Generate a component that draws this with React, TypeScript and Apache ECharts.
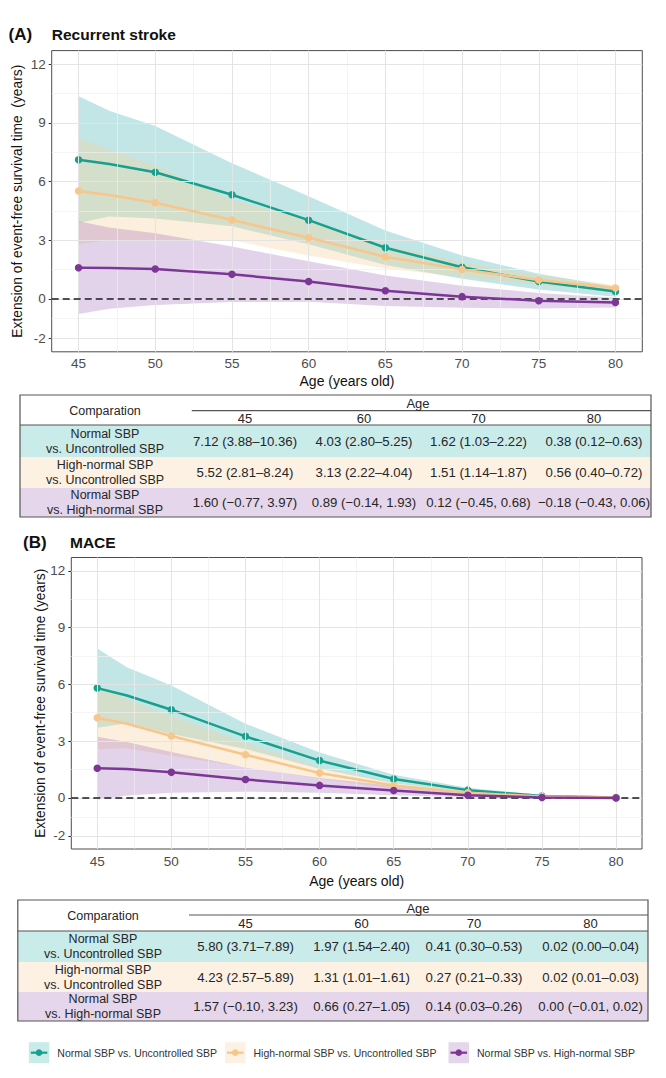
import { useEffect, useRef } from 'react';
import * as echarts from 'echarts';

const FONT = 'Arial, "Liberation Sans", Helvetica, sans-serif';

// ---- data -----------------------------------------------------------------
const ages = [45, 47, 50, 55, 60, 65, 70, 75, 80];
const markerAges = [45, 50, 55, 60, 65, 70, 75, 80];
const tableAges = [45, 60, 70, 80];
const xTicks = [45, 50, 55, 60, 65, 70, 75, 80];
const xMinor = [47.5, 52.5, 57.5, 62.5, 67.5, 72.5, 77.5];
const yTicks = [-2, 0, 3, 6, 9, 12];
const yMinor = [-1, 1.5, 4.5, 7.5, 10.5];

const comparisonNames = [
  'Normal SBP vs. Uncontrolled SBP',
  'High-normal SBP vs. Uncontrolled SBP',
  'Normal SBP vs. High-normal SBP',
];
const comparisonLines = [
  ['Normal SBP', 'vs. Uncontrolled SBP'],
  ['High-normal SBP', 'vs. Uncontrolled SBP'],
  ['Normal SBP', 'vs. High-normal SBP'],
];

// (A) Recurrent stroke
const strokeNormUnc = [7.12, 6.9, 6.48, 5.33, 4.03, 2.62, 1.62, 0.89, 0.38];
const strokeNormUncLow = [3.88, 4.22, 4.12, 3.72, 2.8, 1.74, 1.03, 0.49, 0.12];
const strokeNormUncHigh = [10.36, 9.62, 8.84, 6.94, 5.25, 3.5, 2.22, 1.29, 0.63];
const strokeHighUnc = [5.52, 5.32, 4.92, 4.04, 3.13, 2.16, 1.51, 0.97, 0.56];
const strokeHighUncLow = [2.81, 3.0, 3.0, 3.0, 2.22, 1.56, 1.14, 0.72, 0.4];
const strokeHighUncHigh = [8.24, 7.64, 6.84, 5.08, 4.04, 2.76, 1.87, 1.22, 0.72];
const strokeNormHigh = [1.6, 1.58, 1.53, 1.26, 0.89, 0.42, 0.12, -0.09, -0.18];
const strokeNormHighLow = [-0.77, -0.5, -0.31, -0.16, -0.14, -0.36, -0.45, -0.49, -0.43];
const strokeNormHighHigh = [3.97, 3.66, 3.36, 2.68, 1.93, 1.2, 0.68, 0.31, 0.06];

// (B) MACE
const maceNormUnc = [5.8, 5.41, 4.66, 3.25, 1.97, 1.0, 0.41, 0.1, 0.02];
const maceNormUncLow = [3.71, 3.95, 3.38, 2.58, 1.54, 0.78, 0.3, 0.05, 0.0];
const maceNormUncHigh = [7.89, 6.9, 5.94, 3.92, 2.4, 1.22, 0.53, 0.16, 0.04];
const maceHighUnc = [4.23, 3.92, 3.27, 2.28, 1.31, 0.65, 0.27, 0.07, 0.02];
const maceHighUncLow = [2.57, 2.62, 2.22, 1.63, 1.01, 0.5, 0.21, 0.05, 0.01];
const maceHighUncHigh = [5.89, 5.22, 4.32, 2.93, 1.61, 0.8, 0.33, 0.09, 0.03];
const maceNormHigh = [1.57, 1.53, 1.35, 0.97, 0.66, 0.39, 0.14, 0.02, 0.0];
const maceNormHighLow = [-0.1, 0.12, 0.27, 0.33, 0.27, 0.14, 0.03, -0.03, -0.01];
const maceNormHighHigh = [3.23, 2.95, 2.43, 1.61, 1.05, 0.64, 0.26, 0.07, 0.02];

// ---- styling ----------------------------------------------------------------
const lineColors = ['#17a08e', '#f7c68b', '#7c3795'];
const bandColors = ['rgba(52,172,168,0.3)', 'rgba(248,205,148,0.32)', 'rgba(158,105,185,0.3)'];
const rowFills = ['#c9ebe9', '#fdf1e3', '#e5d6eb'];
const TEXT = '#262626';

type Curve = { est: number[]; low: number[]; high: number[] };

const panels = [
  {
    tag: '(A)',
    title: 'Recurrent stroke',
    tagX: 8.5,
    titleX: 51.8,
    titleY: 34,
    grid: { left: 51.7, top: 50.6, width: 590.6, height: 301.2 },
    yTitle: 'Extension of event-free survival time  (years)',
    yTitlePos: [17.5, 201.2],
    xTitlePos: [347, 381],
    curves: [
      { est: strokeNormUnc, low: strokeNormUncLow, high: strokeNormUncHigh },
      { est: strokeHighUnc, low: strokeHighUncLow, high: strokeHighUncHigh },
      { est: strokeNormHigh, low: strokeNormHighLow, high: strokeNormHighHigh },
    ] as Curve[],
    table: {
      left: 20, right: 651, top: 395, ageLineX: 191.8, ageLineY: 410.7, headBottom: 425,
      rows: [425, 457, 488, 517], colX: [245, 364, 478.5, 594], compX: 105,
      ageX: 418, ageY: 403, colHeadY: 418.5, compY: 411,
    },
  },
  {
    tag: '(B)',
    title: 'MACE',
    tagX: 23,
    titleX: 70,
    titleY: 542,
    grid: { left: 71.3, top: 557.5, width: 570.7, height: 291.5 },
    yTitle: 'Extension of event-free survival time (years)',
    yTitlePos: [40, 703.3],
    xTitlePos: [356.7, 881],
    curves: [
      { est: maceNormUnc, low: maceNormUncLow, high: maceNormUncHigh },
      { est: maceHighUnc, low: maceHighUncLow, high: maceHighUncHigh },
      { est: maceNormHigh, low: maceNormHighLow, high: maceNormHighHigh },
    ] as Curve[],
    table: {
      left: 17.8, right: 648, top: 900, ageLineX: 189, ageLineY: 915, headBottom: 931,
      rows: [931, 962, 992, 1021], colX: [245.6, 361.6, 474, 590.6], compX: 103,
      ageX: 418, ageY: 908, colHeadY: 923.5, compY: 916,
    },
  },
];

const legendBoxX = [28.8, 225, 448.5];
const legendY = 1052.7;

// ---- helpers ----------------------------------------------------------------
function fmt(v: number) {
  return v.toFixed(2).replace('-', '\u2212');
}
function ciText(e: number, l: number, h: number) {
  return l < 0 ? `${fmt(e)} (${fmt(l)}, ${fmt(h)})` : `${fmt(e)} (${fmt(l)}\u2013${fmt(h)})`;
}

function text(
  t: string,
  x: number,
  y: number,
  size: number,
  opts: { align?: string; weight?: string; fill?: string; rotation?: number } = {}
) {
  return {
    type: 'text',
    x,
    y,
    rotation: opts.rotation ?? 0,
    silent: true,
    style: {
      text: t,
      fill: opts.fill ?? TEXT,
      fontSize: size,
      fontFamily: FONT,
      fontWeight: opts.weight ?? 'normal',
      align: opts.align ?? 'center',
      verticalAlign: 'middle',
    },
  };
}
function hline(x1: number, x2: number, y: number, color = '#555', w = 1.2) {
  return { type: 'line', silent: true, shape: { x1, y1: y, x2, y2: y }, style: { stroke: color, lineWidth: w } };
}

function tableElements(curves: Curve[], t: (typeof panels)[number]['table']) {
  const els: any[] = [];
  const w = t.right - t.left;
  for (let r = 0; r < 3; r++) {
    els.push({
      type: 'rect', silent: true,
      shape: { x: t.left, y: t.rows[r], width: w, height: t.rows[r + 1] - t.rows[r] },
      style: { fill: rowFills[r] },
    });
  }
  els.push({
    type: 'rect', silent: true,
    shape: { x: t.left, y: t.top, width: w, height: t.rows[3] - t.top },
    style: { fill: 'none', stroke: '#555', lineWidth: 1.2 },
  });
  els.push(hline(t.left, t.right, t.headBottom));
  els.push(hline(t.ageLineX, t.right, t.ageLineY));
  els.push(text('Comparation', t.compX, t.compY, 12.5));
  els.push(text('Age', t.ageX, t.ageY, 13));
  tableAges.forEach((a, c) => els.push(text(String(a), t.colX[c], t.colHeadY, 13)));
  for (let r = 0; r < 3; r++) {
    const cy = (t.rows[r] + t.rows[r + 1]) / 2;
    els.push(text(comparisonLines[r][0], t.compX, cy - 7.5, 12.5));
    els.push(text(comparisonLines[r][1], t.compX, cy + 7.5, 12.5));
    const cv = curves[r];
    tableAges.forEach((a, c) => {
      const k = ages.indexOf(a);
      els.push(text(ciText(cv.est[k], cv.low[k], cv.high[k]), t.colX[c], cy, 13.2));
    });
  }
  return els;
}

function buildOption() {
  const grids: any[] = [];
  const xAxes: any[] = [];
  const yAxes: any[] = [];
  const series: any[] = [];
  const graphics: any[] = [];

  panels.forEach((p, i) => {
    grids.push({
      ...p.grid,
      show: true,
      backgroundColor: '#ffffff',
      borderColor: '#4d4d4d',
      borderWidth: 1,
      containLabel: false,
      outerBoundsMode: 'none',
    });
    xAxes.push({
      type: 'value',
      gridIndex: i,
      min: 43.25,
      max: 81.75,
      splitLine: { show: false },
      axisLine: { show: false },
      axisTick: { show: true, length: 3, customValues: xTicks, lineStyle: { color: '#333', width: 1 } },
      axisLabel: { customValues: xTicks, margin: 5, color: '#4d4d4d', fontSize: 13.5, fontFamily: FONT },
    });
    yAxes.push({
      type: 'value',
      gridIndex: i,
      min: -2.7,
      max: 12.7,
      splitLine: { show: false },
      axisLine: { show: false },
      axisTick: { show: true, length: 3, customValues: yTicks, lineStyle: { color: '#333', width: 1 } },
      axisLabel: { customValues: yTicks, margin: 6, color: '#4d4d4d', fontSize: 13.5, fontFamily: FONT },
    });

    const helper = (z: number, markLine: any) => ({
      type: 'line',
      xAxisIndex: i,
      yAxisIndex: i,
      z,
      silent: true,
      data: [[45, 0]],
      showSymbol: false,
      lineStyle: { opacity: 0 },
      markLine: { silent: true, symbol: ['none', 'none'], label: { show: false }, emphasis: { disabled: true }, ...markLine },
    });

    // panel grid lines
    series.push(
      helper(1, {
        lineStyle: { color: '#efefef', width: 0.7, type: 'solid' },
        data: [...xMinor.map((v) => ({ xAxis: v })), ...yMinor.map((v) => ({ yAxis: v }))],
      })
    );
    series.push(
      helper(1, {
        lineStyle: { color: '#e4e4e4', width: 1.1, type: 'solid' },
        data: [...xTicks.map((v) => ({ xAxis: v })), ...yTicks.map((v) => ({ yAxis: v }))],
      })
    );

    // confidence bands
    p.curves.forEach((cv, s) => {
      series.push({
        type: 'custom',
        xAxisIndex: i,
        yAxisIndex: i,
        z: 2,
        silent: true,
        data: ages.map((a, k) => [a, cv.low[k], cv.high[k]]),
        encode: { x: 0, y: [1, 2] },
        renderItem: (params: any, api: any) => {
          if (params.dataIndex !== 0) return;
          const pts: number[][] = [];
          for (let k = 0; k < ages.length; k++) pts.push(api.coord([ages[k], cv.high[k]]));
          for (let k = ages.length - 1; k >= 0; k--) pts.push(api.coord([ages[k], cv.low[k]]));
          return { type: 'polygon', shape: { points: pts }, style: { fill: bandColors[s] } };
        },
      });
    });

    // reference line at zero
    series.push(
      helper(3, {
        lineStyle: { color: '#1a1a1a', width: 1.5, type: [7, 4] },
        data: [{ yAxis: 0 }],
      })
    );

    // estimate lines
    p.curves.forEach((cv, s) => {
      series.push({
        type: 'line',
        name: comparisonNames[s],
        xAxisIndex: i,
        yAxisIndex: i,
        z: 4 + s,
        silent: true,
        showSymbol: true,
        symbolSize: 7.5,
        data: ages.map((a, k) => ({
          value: [a, cv.est[k]],
          symbol: markerAges.includes(a) ? 'circle' : 'none',
        })),
        lineStyle: { color: lineColors[s], width: 2.5 },
        itemStyle: { color: lineColors[s] },
      });
    });

    // titles
    graphics.push(text(p.tag, p.tagX, p.titleY, 17, { align: 'left', weight: 'bold', fill: '#111' }));
    graphics.push(text(p.title, p.titleX, p.titleY, 15.5, { align: 'left', weight: 'bold', fill: '#111' }));
    graphics.push(
      text(p.yTitle, p.yTitlePos[0], p.yTitlePos[1], 13.8, { rotation: Math.PI / 2, fill: '#111' })
    );
    graphics.push(text('Age (years old)', p.xTitlePos[0], p.xTitlePos[1], 14, { fill: '#111' }));

    graphics.push(...tableElements(p.curves, p.table));
  });

  // legend
  comparisonNames.forEach((name, s) => {
    const bx = legendBoxX[s];
    graphics.push({
      type: 'rect', silent: true,
      shape: { x: bx, y: legendY - 10.5, width: 20.5, height: 21 },
      style: { fill: rowFills[s] },
    });
    graphics.push({
      type: 'line', silent: true,
      shape: { x1: bx + 2, y1: legendY, x2: bx + 18.5, y2: legendY },
      style: { stroke: lineColors[s], lineWidth: 2.2 },
    });
    graphics.push({
      type: 'circle', silent: true,
      shape: { cx: bx + 10.25, cy: legendY, r: 3.3 },
      style: { fill: lineColors[s] },
    });
    graphics.push(text(name, bx + 28.5, legendY, 10.5, { align: 'left', fill: '#333' }));
  });

  return {
    animation: false,
    backgroundColor: '#ffffff',
    grid: grids,
    xAxis: xAxes,
    yAxis: yAxes,
    series,
    graphic: { elements: graphics },
  };
}

export default function App() {
  const ref = useRef<HTMLDivElement>(null);
  useEffect(() => {
    const chart = echarts.init(ref.current!, undefined, { renderer: 'svg', width: 666, height: 1078 });
    chart.setOption(buildOption() as any);
    return () => chart.dispose();
  }, []);
  return (
    <div
      ref={ref}
      style={{ position: 'absolute', left: 0, top: 0, width: 666, height: 1078, background: '#fff' }}
    />
  );
}
